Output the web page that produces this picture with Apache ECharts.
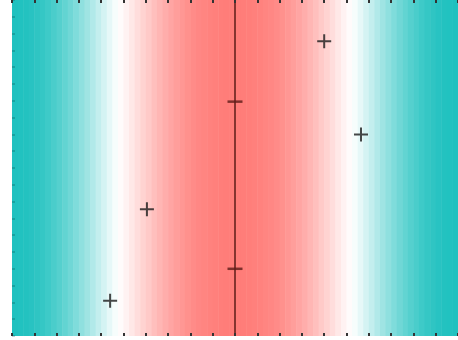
<!DOCTYPE html>
<html>
<head>
<meta charset="utf-8">
<script src="https://cdn.jsdelivr.net/npm/echarts@6/dist/echarts.min.js"></script>
<style>
  html, body { margin: 0; padding: 0; background: #fff; }
  #chart { width: 458px; height: 340px; }
</style>
</head>
<body>
<div id="chart"></div>
<script>
// background bands, each 0.25 wide from x = 0 to 20; shade value -1 (teal) .. 1 (red)
var bandWidth = 0.25;
var bandValue = [
  -1.00, -0.99, -0.98, -0.96, -0.93, -0.90, -0.86, -0.81, -0.76, -0.70,
  -0.64, -0.57, -0.50, -0.43, -0.35, -0.27, -0.19, -0.11, -0.04, 0.03,
  0.10, 0.18, 0.26, 0.34, 0.41, 0.49, 0.56, 0.63, 0.69, 0.75,
  0.80, 0.85, 0.89, 0.92, 0.94, 0.96, 0.98, 0.99, 1.00, 1.00,
  1.00, 1.00, 0.99, 0.98, 0.96, 0.94, 0.92, 0.89, 0.85, 0.80,
  0.75, 0.69, 0.63, 0.56, 0.49, 0.41, 0.34, 0.26, 0.18, 0.10,
  0.03, -0.04, -0.11, -0.19, -0.27, -0.35, -0.43, -0.50, -0.57, -0.64,
  -0.70, -0.76, -0.81, -0.86, -0.90, -0.93, -0.96, -0.98, -0.99, -1.00
];

// plus markers
var pointX = [14.0, 15.65, 6.05, 4.4];
var pointY = [17.55, 12.0, 7.55, 2.1];

// vertical reference line with two tick marks
var refX = 10;
var refLineY = [0, 20];
var refTickY = [13.95, 4.0];

var bands = bandValue.map(function (v, i) { return [i * bandWidth, (i + 1) * bandWidth, v]; });

var tickAxis = function (pos) {
  return {
    type: 'value', min: 0, max: 20, interval: 1, position: pos, z: 10,
    axisLine: { show: false }, splitLine: { show: false }, axisLabel: { show: false },
    axisTick: { inside: true, length: 3, lineStyle: { color: '#333', width: 2 } }
  };
};

var chart = echarts.init(document.getElementById('chart'));
chart.setOption({
  animation: false,
  grid: { left: 12, right: 0, top: 0, bottom: 4 },
  xAxis: [tickAxis('bottom'), tickAxis('top')],
  yAxis: {
    type: 'value', min: 0, max: 20, interval: 1, z: 10,
    axisLine: { show: false }, splitLine: { show: false }, axisLabel: { show: false },
    axisTick: { inside: true, length: 3, lineStyle: { color: 'rgba(0,60,60,0.3)', width: 1.5 } }
  },
  visualMap: {
    show: false, seriesIndex: 0, dimension: 2, min: -1, max: 1,
    inRange: { color: ['#1fc1bf', '#ffffff', '#ff7d79'] }
  },
  series: [{
    type: 'custom',
    data: bands,
    z: 1,
    renderItem: function (params, api) {
      var p0 = api.coord([api.value(0), 20]);
      var p1 = api.coord([api.value(1), 0]);
      return {
        type: 'rect',
        shape: { x: p0[0], y: p0[1], width: p1[0] - p0[0] + 0.5, height: p1[1] - p0[1] },
        style: { fill: api.visual('color') }
      };
    }
  }, {
    type: 'line',
    data: refLineY.map(function (y) { return [refX, y]; }),
    symbol: 'none',
    z: 3,
    lineStyle: { color: '#5e1c18', width: 1.5 }
  }, {
    type: 'scatter',
    data: refTickY.map(function (y) { return [refX, y]; }),
    symbol: 'rect',
    symbolSize: [15, 2.5],
    z: 4,
    itemStyle: { color: '#5e1c18' }
  }, {
    type: 'scatter',
    data: pointX.map(function (x, i) { return [x, pointY[i]]; }),
    symbol: 'path://M6,0h2v6h6v2h-6v6h-2v-6h-6v-2h6z',
    symbolSize: 14,
    z: 5,
    itemStyle: { color: '#1a1a1a' }
  }]
});
</script>
</body>
</html>
